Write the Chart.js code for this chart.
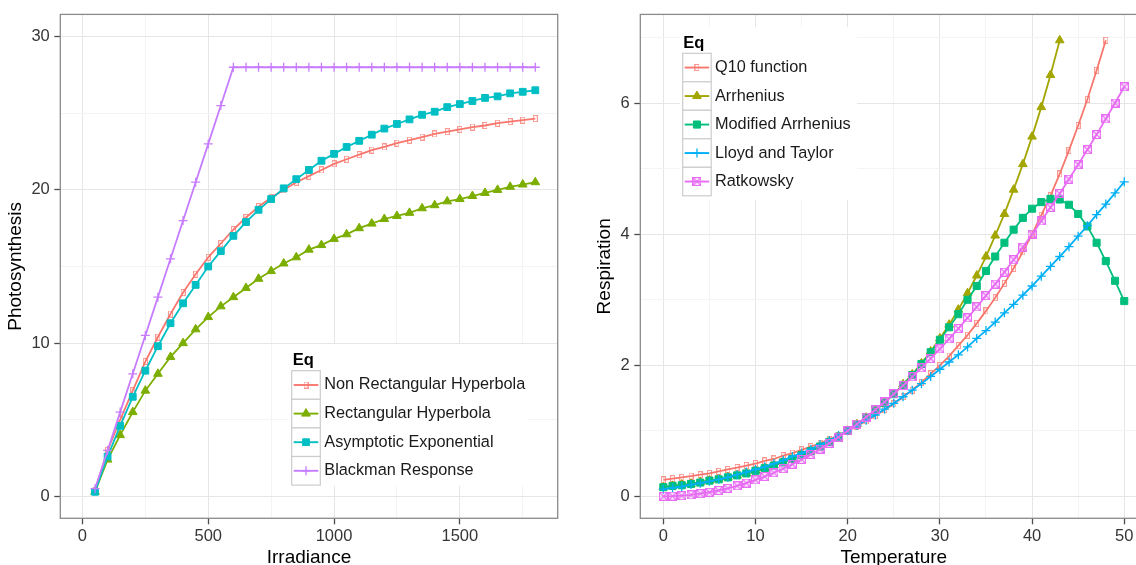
<!DOCTYPE html>
<html>
<head>
<meta charset="utf-8">
<script src="https://cdn.jsdelivr.net/npm/chart.js@4/dist/chart.umd.min.js"></script>
<style>
  html, body { margin: 0; padding: 0; background: #fff; overflow: hidden; width: 1136px; height: 565px; }
  canvas { position: absolute; top: 0; }
  #chartPhoto { left: 0; }
  #chartResp { left: 580px; }
</style>
</head>
<body>
<canvas id="chartPhoto" width="580" height="580"></canvas>
<canvas id="chartResp" width="600" height="580"></canvas>
<script>
/*
   Light response (photosynthesis) and temperature response (respiration) curves
*/

/* Photosynthesis vs irradiance */
var irradiance = [50, 100, 150, 200, 250, 300, 350, 400, 450, 500, 550, 600,
  650, 700, 750, 800, 850, 900, 950, 1000, 1050, 1100, 1150, 1200,
  1250, 1300, 1350, 1400, 1450, 1500, 1550, 1600, 1650, 1700, 1750, 1800];
var nonRectHyperbola = [0.4, 3.0, 5.0, 6.9, 8.8, 10.4, 11.9, 13.3, 14.5, 15.6, 16.5, 17.4,
  18.2, 18.9, 19.5, 20.0, 20.5, 20.9, 21.3, 21.7, 22.0, 22.3, 22.6, 22.8,
  23.05, 23.25, 23.45, 23.65, 23.8, 23.95, 24.1, 24.2, 24.35, 24.45, 24.55, 24.65];
var rectHyperbola = [0.3, 2.4, 4.0, 5.5, 6.9, 8.0, 9.1, 10.0, 10.9, 11.7, 12.4, 13.0,
  13.6, 14.2, 14.7, 15.2, 15.6, 16.1, 16.4, 16.8, 17.1, 17.5, 17.8, 18.1,
  18.3, 18.5, 18.8, 19.0, 19.25, 19.4, 19.6, 19.8, 20.0, 20.2, 20.35, 20.5];
var asymptoticExp = [0.3, 2.6, 4.6, 6.5, 8.2, 9.8, 11.3, 12.6, 13.8, 15.0, 16.0, 17.0,
  17.9, 18.7, 19.4, 20.1, 20.7, 21.3, 21.9, 22.35, 22.8, 23.2, 23.6, 24.0,
  24.3, 24.6, 24.9, 25.1, 25.4, 25.6, 25.8, 26.0, 26.1, 26.3, 26.4, 26.5];
var blackman = [0.5, 3, 5.5, 8, 10.5, 13, 15.5, 18, 20.5, 23, 25.5, 28,
  28, 28, 28, 28, 28, 28, 28, 28, 28, 28, 28, 28,
  28, 28, 28, 28, 28, 28, 28, 28, 28, 28, 28, 28];

/* Respiration vs temperature */
var temperature = [0, 1, 2, 3, 4, 5, 6, 7, 8, 9, 10, 11, 12, 13, 14, 15, 16, 17, 18, 19, 20,
  21, 22, 23, 24, 25, 26, 27, 28, 29, 30, 31, 32, 33, 34, 35, 36, 37, 38, 39, 40,
  41, 42, 43, 44, 45, 46, 47, 48, 49, 50];
var q10Fn = [0.25, 0.27, 0.29, 0.31, 0.33, 0.35, 0.38, 0.41, 0.44, 0.47,
  0.50, 0.54, 0.57, 0.62, 0.66, 0.71, 0.76, 0.81, 0.87, 0.93,
  1.00, 1.07, 1.15, 1.23, 1.32, 1.41, 1.52, 1.62, 1.74, 1.87,
  2.00, 2.14, 2.30, 2.46, 2.64, 2.83, 3.03, 3.25, 3.48, 3.73,
  4.00, 4.29, 4.59, 4.92, 5.28, 5.66, 6.06, 6.50, 6.96];
var arrhenius = [0.14, 0.16, 0.18, 0.19, 0.22, 0.24, 0.26, 0.29, 0.32, 0.35,
  0.39, 0.43, 0.47, 0.52, 0.57, 0.63, 0.69, 0.76, 0.83, 0.91,
  1.00, 1.10, 1.20, 1.31, 1.43, 1.56, 1.71, 1.86, 2.03, 2.21,
  2.41, 2.62, 2.85, 3.10, 3.37, 3.66, 3.98, 4.31, 4.68, 5.07,
  5.49, 5.94, 6.43, 6.96];
var modArrhenius = [0.14, 0.16, 0.17, 0.19, 0.21, 0.24, 0.26, 0.29, 0.32, 0.35,
  0.39, 0.43, 0.47, 0.52, 0.57, 0.63, 0.69, 0.76, 0.83, 0.91,
  1.00, 1.09, 1.20, 1.31, 1.43, 1.56, 1.70, 1.85, 2.02, 2.20,
  2.39, 2.58, 2.78, 3.00, 3.21, 3.44, 3.66, 3.87, 4.07, 4.25,
  4.39, 4.49, 4.54, 4.53, 4.45, 4.31, 4.12, 3.87, 3.59, 3.29, 2.98];
var lloydTaylor = [0.11, 0.13, 0.15, 0.18, 0.20, 0.23, 0.26, 0.29, 0.33, 0.37,
  0.41, 0.45, 0.50, 0.55, 0.61, 0.66, 0.72, 0.79, 0.85, 0.93,
  1.00, 1.08, 1.16, 1.24, 1.33, 1.42, 1.52, 1.62, 1.72, 1.83,
  1.94, 2.05, 2.16, 2.28, 2.41, 2.53, 2.66, 2.80, 2.93, 3.07,
  3.21, 3.36, 3.51, 3.66, 3.81, 3.97, 4.13, 4.30, 4.46, 4.63, 4.80];
var ratkowsky = [0, 0.0025, 0.01, 0.0225, 0.04, 0.0625, 0.09, 0.1225, 0.16, 0.2025,
  0.25, 0.3025, 0.36, 0.4225, 0.49, 0.5625, 0.64, 0.7225, 0.81, 0.9025,
  1, 1.1025, 1.21, 1.3225, 1.44, 1.5625, 1.69, 1.8225, 1.96, 2.1025,
  2.25, 2.4025, 2.56, 2.7225, 2.89, 3.0625, 3.24, 3.4225, 3.61, 3.8025,
  4, 4.2025, 4.41, 4.6225, 4.84, 5.0625, 5.29, 5.5225, 5.76, 6.0025, 6.25];

/* Axis breaks: labelled (major) and unlabelled (minor) */
var irrMajor = [0, 500, 1000, 1500],   irrMinor = [250, 750, 1250, 1750];
var photoMajor = [0, 10, 20, 30],      photoMinor = [5, 15, 25];
var tempMajor = [0, 10, 20, 30, 40, 50], tempMinor = [5, 15, 25, 35, 45];
var respMajor = [0, 2, 4, 6],          respMinor = [1, 3, 5, 7];

var legendTitle = 'Eq';

var FONT = '"Liberation Sans", Arial, Helvetica, sans-serif';
var GRID_MAJOR = '#e6e6e6', GRID_MINOR = '#f4f4f4', TICK = '#4d4d4d';

/* small marker images for the open square and the boxed cross */
function markerImg(w, h, color, lw, crossed) {
  var c = document.createElement('canvas');
  c.width = w; c.height = h;
  var g = c.getContext('2d');
  g.strokeStyle = color;
  g.lineWidth = lw;
  g.strokeRect(lw / 2, lw / 2, w - lw, h - lw);
  if (crossed) {
    g.beginPath();
    g.moveTo(1, 1); g.lineTo(w - 1, h - 1);
    g.moveTo(w - 1, 1); g.lineTo(1, h - 1);
    g.stroke();
  }
  return c;
}

function pts(xs, ys) {
  return ys.map(function (y, i) { return { x: xs[i], y: y }; });
}

function series(label, xs, ys, color, marker, i) {
  var ds = {
    label: label,
    data: pts(xs, ys),
    borderColor: color,
    backgroundColor: color,
    borderWidth: 1.8,
    pointBackgroundColor: color,
    pointBorderColor: color,
    pointBorderWidth: 1,
    pointRadius: 4,
    tension: 0,
    order: -i
  };
  for (var k in marker) ds[k] = marker[k];
  return ds;
}

function breaks(major, minor) {
  return major.concat(minor).sort(function (a, b) { return a - b; });
}

function axis(opts) {
  var isMajor = function (v) { return opts.major.indexOf(v) >= 0; };
  return {
    type: 'linear',
    position: opts.position,
    min: opts.min,
    max: opts.max,
    afterBuildTicks: function (s) {
      s.ticks = breaks(opts.major, opts.minor).map(function (v) { return { value: v }; });
    },
    afterFit: function (s) {
      if (opts.position === 'left') s.width = opts.size; else s.height = opts.size;
    },
    border: { display: false },
    grid: {
      color: function (c) { return isMajor(c.tick.value) ? GRID_MAJOR : GRID_MINOR; },
      lineWidth: 1,
      tickLength: 6,
      tickWidth: 1.3,
      tickColor: function (c) { return isMajor(c.tick.value) ? TICK : 'rgba(0,0,0,0)'; }
    },
    ticks: {
      autoSkip: false,
      maxRotation: 0,
      padding: opts.position === 'left' ? 4.5 : 2.5,
      color: '#363636',
      font: { family: FONT, size: 16.5 },
      callback: function (v) { return isMajor(v) ? String(v) : ''; }
    },
    title: {
      display: true,
      text: opts.title,
      color: '#000',
      font: { family: FONT, size: 19 },
      padding: opts.titlePad
    }
  };
}

/* panel border drawn over the data */
var panelFrame = {
  id: 'panelFrame',
  afterDatasetsDraw: function (chart) {
    var a = chart.chartArea, ctx = chart.ctx;
    ctx.save();
    ctx.strokeStyle = '#8a8a8a';
    ctx.lineWidth = 1.3;
    ctx.strokeRect(a.left, a.top, a.right - a.left, a.bottom - a.top);
    ctx.restore();
  }
};

/* ggplot-style legend box inside the panel */
var eqLegend = {
  id: 'eqLegend',
  afterDraw: function (chart, args, o) {
    var ctx = chart.ctx, k = o.key;
    ctx.save();
    ctx.fillStyle = '#fff';
    ctx.fillRect(o.box[0], o.box[1], o.box[2], o.box[3]);
    ctx.fillStyle = '#000';
    ctx.font = 'bold 16.5px ' + FONT;
    ctx.textBaseline = 'alphabetic';
    ctx.fillText(legendTitle, o.titleX, o.titleY);
    chart.data.datasets.forEach(function (ds, i) {
      var kx = o.keyX, ky = o.keyY + i * k, cy = ky + k / 2, cx = kx + k / 2;
      ctx.fillStyle = '#fff';
      ctx.fillRect(kx, ky, k, k);
      ctx.strokeStyle = '#cccccc';
      ctx.lineWidth = 1.2;
      ctx.strokeRect(kx, ky, k, k);
      ctx.strokeStyle = ds.borderColor;
      ctx.lineWidth = 1.9;
      ctx.beginPath();
      ctx.moveTo(kx + 2, cy);
      ctx.lineTo(kx + k - 2, cy);
      ctx.stroke();
      ctx.fillStyle = ds.pointBackgroundColor;
      ctx.strokeStyle = ds.pointBorderColor;
      ctx.lineWidth = ds.pointBorderWidth;
      Chart.helpers.drawPoint(ctx, {
        pointStyle: ds.pointStyle, radius: ds.pointRadius, rotation: 0, borderWidth: ds.pointBorderWidth
      }, cx, cy);
      ctx.fillStyle = '#1a1a1a';
      ctx.font = '16.3px ' + FONT;
      ctx.textBaseline = 'middle';
      ctx.fillText(ds.label, o.labelX, cy);
    });
    ctx.restore();
  }
};

function makeChart(id, datasets, xAxis, yAxis, padRight, legendOpts) {
  return new Chart(document.getElementById(id), {
    type: 'line',
    data: { datasets: datasets },
    plugins: [panelFrame, eqLegend],
    options: {
      responsive: false,
      animation: false,
      devicePixelRatio: 1,
      layout: { padding: { left: 0, top: 14.3, right: padRight, bottom: 0 } },
      plugins: { legend: { display: false }, tooltip: { enabled: false }, eqLegend: legendOpts },
      scales: { x: xAxis, y: yAxis }
    }
  });
}

/* Photosynthesis panel */
var openRed = markerImg(5, 7, 'rgba(248,118,109,0.75)', 1, false);
makeChart('chartPhoto', [
  series('Non Rectangular Hyperbola', irradiance, nonRectHyperbola, '#F8766D', { pointStyle: openRed }, 0),
  series('Rectangular Hyperbola', irradiance, rectHyperbola, '#7CAE00', { pointStyle: 'triangle', pointRadius: 5 }, 1),
  series('Asymptotic Exponential', irradiance, asymptoticExp, '#00BFC4', { pointStyle: 'rect', pointRadius: 4.8 }, 2),
  series('Blackman Response', irradiance, blackman, '#C77CFF', { pointStyle: 'cross', pointRadius: 4.5, pointBorderWidth: 1.3 }, 3)
],
  axis({ position: 'bottom', min: -88, max: 1889, major: irrMajor, minor: irrMinor, size: 61.7,
         title: 'Irradiance', titlePad: { top: 0, bottom: 11.2 } }),
  axis({ position: 'left', min: -1.43, max: 31.45, major: photoMajor, minor: photoMinor, size: 60.3,
         title: 'Photosynthesis', titlePad: { top: 4.2, bottom: 0 } }),
  22.3,
  { box: [289, 344, 239, 142], titleX: 292.7, titleY: 365, keyX: 291.7, keyY: 370.7, key: 28.6, labelX: 324.3 }
);

/* Respiration panel */
var openRed2 = markerImg(5, 7, 'rgba(248,118,109,0.75)', 1, false);
var boxedCross = markerImg(9, 9, '#E76BF3', 1.2, true);
makeChart('chartResp', [
  series('Q10 function', temperature, q10Fn, '#F8766D', { pointStyle: openRed2 }, 0),
  series('Arrhenius', temperature, arrhenius, '#A3A500', { pointStyle: 'triangle', pointRadius: 5 }, 1),
  series('Modified Arrhenius', temperature, modArrhenius, '#00BF7D', { pointStyle: 'rect', pointRadius: 5 }, 2),
  series('Lloyd and Taylor', temperature, lloydTaylor, '#00B0F6', { pointStyle: 'cross', pointRadius: 4.5, pointBorderWidth: 1.3 }, 3),
  series('Ratkowsky', temperature, ratkowsky, '#E76BF3', { pointStyle: boxedCross }, 4)
],
  axis({ position: 'bottom', min: -2.5, max: 52.5, major: tempMajor, minor: tempMinor, size: 61.7,
         title: 'Temperature', titlePad: { top: 0, bottom: 11.2 } }),
  axis({ position: 'left', min: -0.335, max: 7.355, major: respMajor, minor: respMinor, size: 60.3,
         title: 'Respiration', titlePad: { top: 13.8, bottom: 0 } }),
  32.7,
  { box: [100, 27, 177, 173], titleX: 103.3, titleY: 48.3, keyX: 102.7, keyY: 53.3, key: 28.5, labelX: 135 }
);
</script>
</body>
</html>
